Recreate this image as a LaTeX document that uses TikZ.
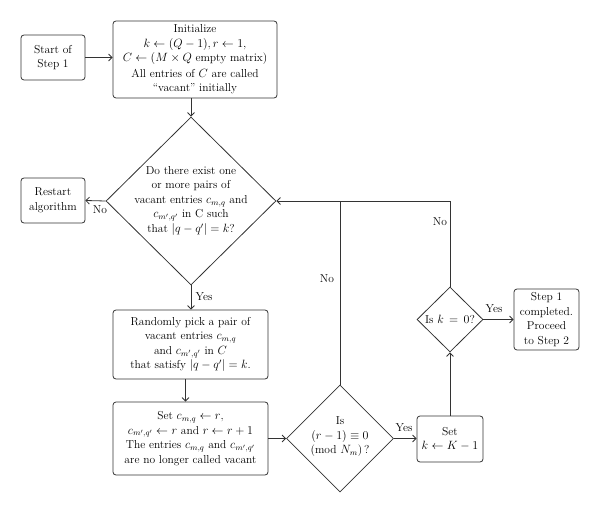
\documentclass[tikz,border=0pt]{standalone}
\usetikzlibrary{shapes.geometric,arrows.meta}
\begin{document}
\begin{tikzpicture}[x=1pt,y=-1pt, font=\fontsize{11.5}{14.5}\selectfont,
 box/.style={draw=black!80, rounded corners=3pt, align=center, inner sep=1pt, line width=0.8pt},
 dia/.style={draw=black!80, diamond, aspect=1, inner sep=0pt, line width=0.8pt},
 txt/.style={align=center, inner sep=0pt},
 arr/.style={draw=black!80, -{Straight Barb[length=3.5pt,width=7pt]}, line width=0.8pt},
 ln/.style={draw=black!80, line width=0.8pt},
 lbl/.style={inner sep=1pt}]
\useasboundingbox (0,0) rectangle (600,513);

\node[box, minimum width=64pt, minimum height=45pt] (start) at (53,57.5) {Start of\\Step 1};
\node[box, minimum width=164pt, minimum height=77pt] (init) at (195,59.5)
  {Initialize\\$k\leftarrow(Q-1), r\leftarrow 1,$\\$C\leftarrow(M\times Q$ empty matrix)\\[1pt]All entries of $C$ are called\\``vacant'' initially};
\node[dia, minimum width=170pt, minimum height=168pt] (big) at (191,201) {};
\node[txt] (bigtxt) at (191,201) {Do there exist one\\or more pairs of\\vacant entries $c_{m,q}$ and\\$c_{m',q'}$ in C such\\that $|q-q'|=k$?};
\node[box, minimum width=64pt, minimum height=45pt] (restart) at (53,200.5) {Restart\\algorithm};
\node[box, minimum width=155pt, minimum height=69pt] (rand) at (190.5,344.5)
  {Randomly pick a pair of\\vacant entries $c_{m,q}$\\and $c_{m',q'}$ in $C$\\that satisfy $|q-q'|=k$.};
\node[box, minimum width=155pt, minimum height=73pt] (set) at (190.5,438.5)
  {Set $c_{m,q}\leftarrow r$,\\$c_{m',q'}\leftarrow r$ and $r\leftarrow r+1$\\The entries $c_{m,q}$ and $c_{m',q'}$\\are no longer called vacant};
\node[dia, minimum width=107pt, minimum height=107pt] (mod) at (340,438.5) {};
\node[txt] (modtxt) at (340,437) {Is\\$(r-1)\equiv 0$\\(mod $N_m$)\,?};
\node[box, minimum width=66pt, minimum height=46pt] (setk) at (450,439) {Set\\$k\leftarrow K-1$};
\node[dia, minimum width=66pt, minimum height=65pt] (kz) at (450,319.5) {};
\node[txt] (kztxt) at (450,319.5) {Is $k\,=\,0$?};
\node[box, minimum width=65pt, minimum height=61pt] (comp) at (546.5,319.5) {Step 1\\completed.\\Proceed\\to Step 2};

\coordinate (tr) at (kz.north |- big.east);
\coordinate (tm) at (mod.north |- big.east);

\draw[arr] (start.east) -- (start.east -| init.west);
\draw[arr] (init.south -| big.north) -- (big.north);
\draw[arr] (big.west) -- (restart.east);
\draw[arr] (big.south) -- (big.south |- rand.north);
\draw[arr] ([xshift=-5pt]rand.south) -- ([xshift=-5pt]set.north);
\draw[arr] (set.east) -- (mod.west);
\draw[arr] (mod.east) -- (mod.east -| setk.west);
\draw[arr] (setk.north) -- (kz.south);
\draw[arr] (kz.east) -- (kz.east -| comp.west);
\draw[arr] (kz.north) -- (tr) -- (big.east);
\draw[ln] (mod.north) -- (tm);

\node[lbl] (nob) at (100,210) {No};
\node[lbl] (yesb) at (204,297) {Yes};
\node[lbl] (yesm) at (404,428) {Yes};
\node[lbl] (yesk) at (494,309) {Yes};
\node[lbl] (nok) at (440,222) {No};
\node[lbl] (nom) at (327,279) {No};
\end{tikzpicture}
\end{document}
